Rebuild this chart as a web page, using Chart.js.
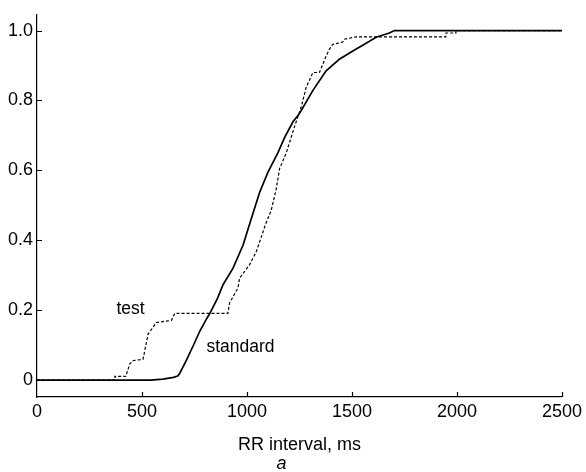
<!DOCTYPE html>
<html>
<head>
<meta charset="utf-8">
<script src="https://cdn.jsdelivr.net/npm/chart.js@4"></script>
<style>
  html, body { margin: 0; padding: 0; background: #fff; }
  #wrap { width: 586px; height: 472px; }
</style>
</head>
<body>
<div id="wrap"><canvas id="c" width="586" height="472"></canvas></div>
<script>
// RR interval (ms) and cumulative fraction
const standardX = [0, 540, 600, 650, 670, 680, 710, 745, 775, 806, 822, 860, 886, 933, 981, 1020, 1060, 1100, 1147, 1180, 1219, 1250, 1314, 1377, 1440, 1500, 1551, 1615, 1678, 1702, 2500];
const standardY = [0, 0, 0.003, 0.008, 0.012, 0.02, 0.055, 0.1, 0.14, 0.174, 0.19, 0.235, 0.273, 0.32, 0.386, 0.461, 0.537, 0.595, 0.65, 0.695, 0.739, 0.763, 0.829, 0.885, 0.918, 0.94, 0.958, 0.981, 0.993, 1.0, 1.0];

const testX = [0, 371, 371, 423, 442, 458, 505, 529, 569, 640, 656, 909, 917, 957, 965, 1012, 1044, 1092, 1115, 1139, 1155, 1187, 1226, 1258, 1282, 1314, 1345, 1377, 1392, 1408, 1456, 1464, 1519, 1947, 1947, 1995, 1995, 2500];
const testY = [0, 0, 0.011, 0.011, 0.047, 0.056, 0.06, 0.132, 0.165, 0.171, 0.191, 0.191, 0.221, 0.264, 0.292, 0.33, 0.367, 0.452, 0.485, 0.546, 0.605, 0.65, 0.725, 0.781, 0.838, 0.88, 0.88, 0.927, 0.946, 0.96, 0.967, 0.975, 0.982, 0.982, 0.993, 0.993, 1.0, 1.0];

const xTicks = [0, 500, 1000, 1500, 2000, 2500];
const yTicks = [0, 0.2, 0.4, 0.6, 0.8, 1.0];

const labels = [
  { text: 'test', x: 378, y: 0.189 },
  { text: 'standard', x: 807, y: 0.08 }
];

const FONT = 'Liberation Sans, Arial, Helvetica, sans-serif';

function toPoints(xs, ys) { return xs.map((x, i) => ({ x: x, y: ys[i] })); }

const innerTicks = {
  id: 'innerTicks',
  afterDraw(chart) {
    const ctx = chart.ctx;
    const xs = chart.scales.x, ys = chart.scales.y;
    const a = chart.chartArea;
    ctx.save();
    ctx.strokeStyle = '#000';
    ctx.lineWidth = 1.2;
    ctx.beginPath();
    yTicks.forEach(v => {
      const p = Math.round(ys.getPixelForValue(v)) + 0.5;
      ctx.moveTo(a.left, p); ctx.lineTo(a.left + 5, p);
    });
    xTicks.forEach(v => {
      if (v === 0) return;
      const p = Math.round(xs.getPixelForValue(v)) + 0.5;
      ctx.moveTo(p, a.bottom); ctx.lineTo(p, a.bottom - 5);
    });
    ctx.stroke();
    ctx.fillStyle = '#000';
    ctx.font = '17.5px ' + FONT;
    ctx.textAlign = 'left';
    ctx.textBaseline = 'alphabetic';
    labels.forEach(l => {
      ctx.fillText(l.text, xs.getPixelForValue(l.x), ys.getPixelForValue(l.y));
    });
    ctx.restore();
  }
};

new Chart(document.getElementById('c'), {
  type: 'scatter',
  data: {
    datasets: [
      {
        label: 'standard',
        data: toPoints(standardX, standardY),
        showLine: true,
        borderColor: '#000',
        borderWidth: 1.7,
        pointRadius: 0,
        tension: 0
      },
      {
        label: 'test',
        data: toPoints(testX, testY),
        showLine: true,
        borderColor: '#000',
        borderWidth: 1.2,
        borderDash: [3, 2],
        pointRadius: 0,
        tension: 0
      }
    ]
  },
  options: {
    responsive: false,
    animation: false,
    events: [],
    layout: { padding: { left: 0, right: 23, top: 10, bottom: 0 } },
    plugins: {
      legend: { display: false },
      tooltip: { enabled: false },
      subtitle: {
        display: true,
        text: 'a',
        position: 'bottom',
        color: '#000',
        font: { family: FONT, size: 18, style: 'italic' },
        padding: { top: 0, bottom: -2.6 }
      }
    },
    scales: {
      x: {
        type: 'linear',
        min: 0,
        max: 2500,
        afterBuildTicks: s => { s.ticks = xTicks.map(v => ({ value: v })); },
        afterFit: s => { s.height = 56; },
        grid: { display: true, drawOnChartArea: false, drawTicks: false },
        border: { display: true, color: '#000', width: 1.2 },
        ticks: {
          color: '#000',
          padding: 4,
          maxRotation: 0,
          font: { family: FONT, size: 18 },
          callback: v => String(v)
        },
        title: {
          display: true,
          text: 'RR interval, ms',
          color: '#000',
          font: { family: FONT, size: 18 },
          padding: { top: 0, bottom: -3.2 }
        }
      },
      y: {
        type: 'linear',
        min: -0.048,
        max: 1.045,
        afterBuildTicks: s => { s.ticks = yTicks.map(v => ({ value: v })); },
        afterFit: s => { s.width = 37; },
        grid: { display: true, drawOnChartArea: false, drawTicks: false },
        border: { display: true, color: '#000', width: 1.2 },
        ticks: {
          color: '#000',
          padding: 4,
          font: { family: FONT, size: 18 },
          callback: v => (v === 0 ? '0' : v.toFixed(1))
        }
      }
    }
  },
  plugins: [innerTicks]
});
</script>
</body>
</html>
